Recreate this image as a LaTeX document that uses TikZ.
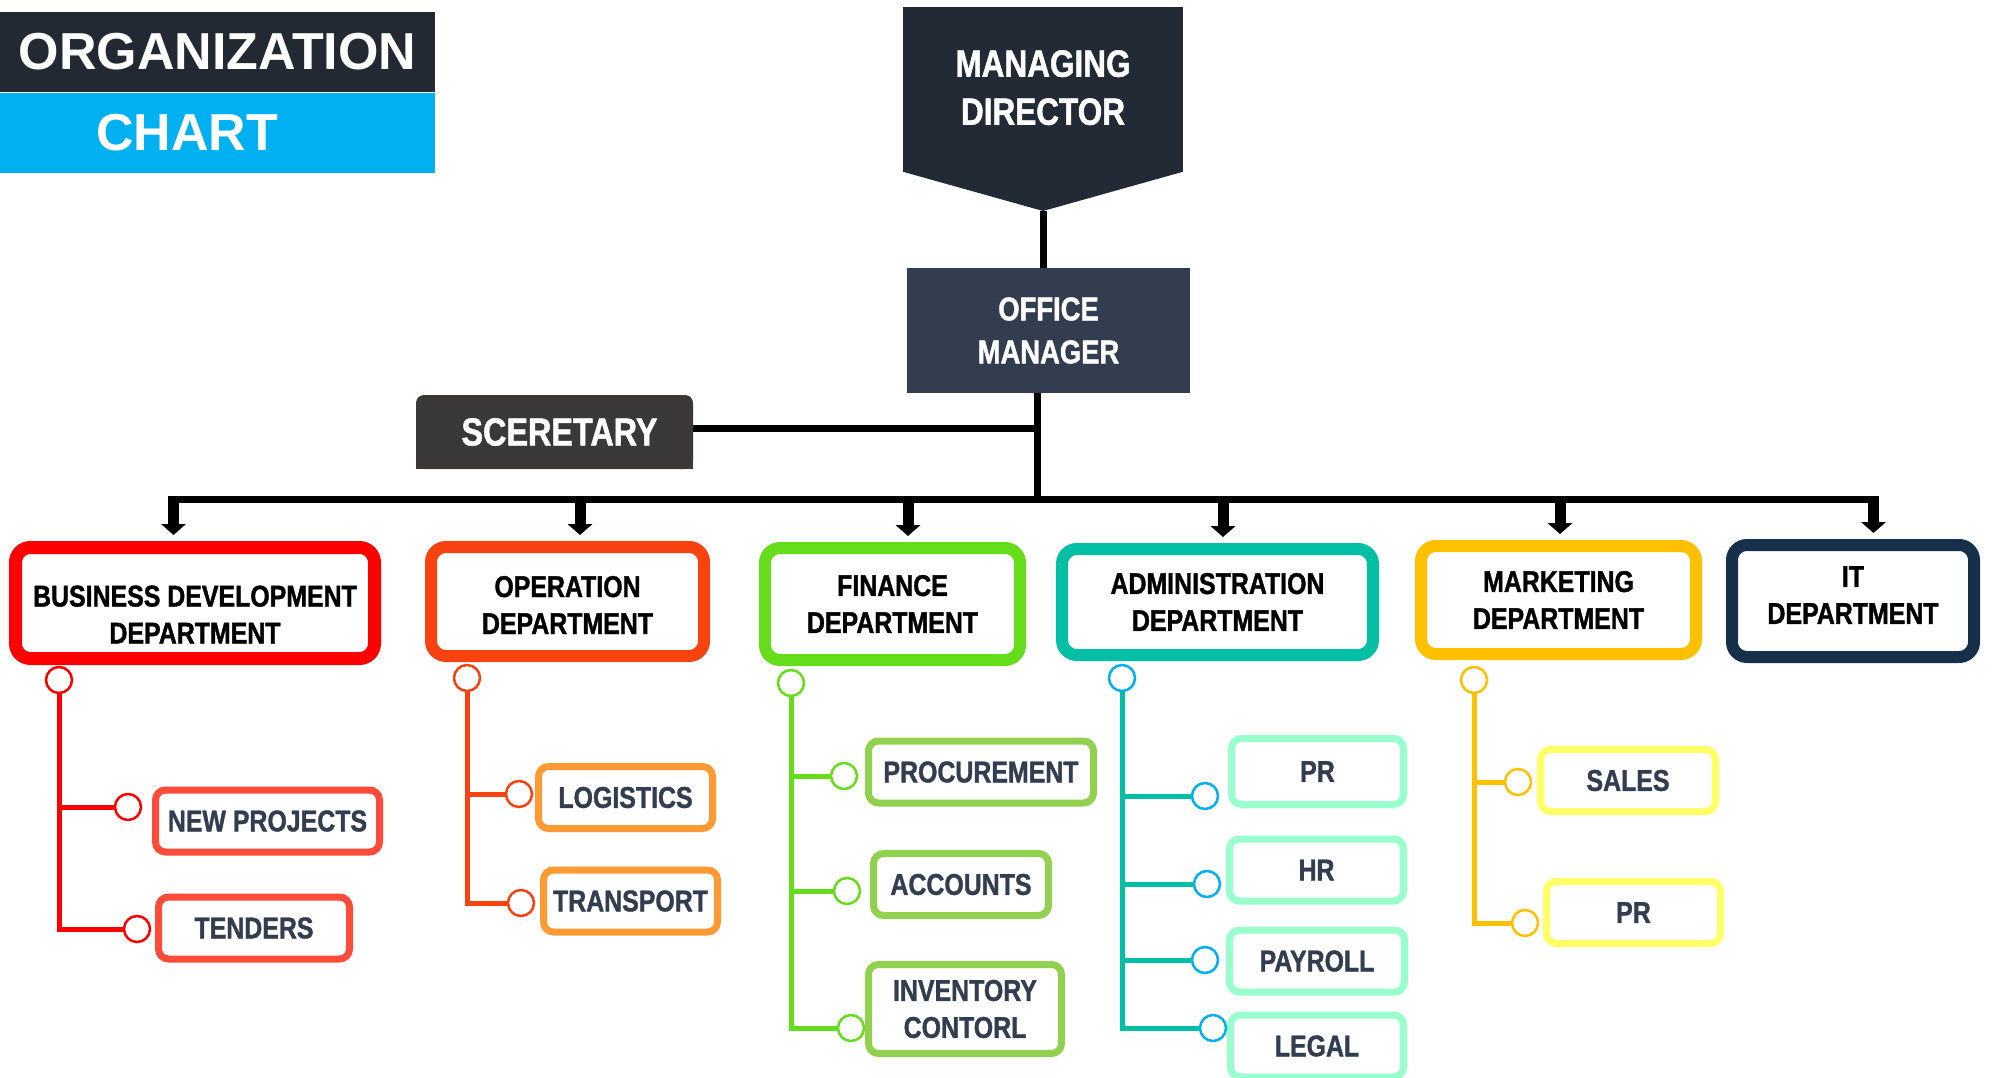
\documentclass[tikz,border=0pt]{standalone}
\usepackage{fontspec}
\newfontfamily\widefont{Liberation Sans}
\newfontfamily\narrowfont{Liberation Sans}[FakeStretch=0.83,BoldFeatures={FakeBold=1.2}]
\usetikzlibrary{arrows.meta}
\definecolor{titledark}{HTML}{222933}
\definecolor{titlecyan}{HTML}{00B0F0}
\definecolor{mdfill}{HTML}{222A36}
\definecolor{omfill}{HTML}{323E50}
\definecolor{secfill}{HTML}{3B3937}
\definecolor{subtext}{HTML}{323E50}
\definecolor{bdcol}{HTML}{FF0000}
\definecolor{bdsub}{HTML}{FF4B3A}
\definecolor{opcol}{HTML}{F8420F}
\definecolor{opsub}{HTML}{FF9933}
\definecolor{fincol}{HTML}{66DD1A}
\definecolor{finsub}{HTML}{92D050}
\definecolor{admcol}{HTML}{00BFA5}
\definecolor{admknob}{HTML}{00B0F0}
\definecolor{admsub}{HTML}{99FFCC}
\definecolor{mkcol}{HTML}{FFC000}
\definecolor{mksub}{HTML}{FFFF66}
\definecolor{itcol}{HTML}{17304A}
\newcommand\titlefont{\widefont\bfseries\fontsize{52}{60}\selectfont}
\newcommand\mdfont{\narrowfont\bfseries\fontsize{38}{48}\selectfont}
\newcommand\omfont{\narrowfont\bfseries\fontsize{33}{43}\selectfont}
\newcommand\secfont{\narrowfont\bfseries\fontsize{39}{46}\selectfont}
\newcommand\deptfont{\narrowfont\bfseries\fontsize{30}{37}\selectfont}
\tikzset{
	headbox/.style={fill=#1,text=white,inner sep=0pt,align=center},
	dept/.style={draw=#1,line width=12pt,rounded corners=15pt,fill=white,inner sep=0pt,align=center,font=\deptfont},
	subbox/.style={draw=#1,line width=7pt,rounded corners=10pt,fill=white,inner sep=0pt,align=center,text=subtext,font=\deptfont,minimum height=62pt},
	knob/.style={circle,draw=#1,line width=2.5pt,fill=white,inner sep=0pt,minimum size=26pt},
	twig/.style={draw=#1,line width=5pt},
	wire/.style={line width=7pt},
	droparrow/.style={line width=11pt,-{Triangle[width=25pt,length=11pt,line width=0pt]},shorten >=6pt}
}
\begin{document}
\begin{tikzpicture}[x=1pt,y=-1pt]
\useasboundingbox (0,0) rectangle (1998,1078);
\node[headbox=titledark,name=org,minimum width=435pt,minimum height=80pt,font=\titlefont] at (217.5,52){ORGANIZATION};
\node[headbox=titlecyan,name=chart,minimum width=435pt,minimum height=80pt] at (217.5,133){};
\node[text=white,inner sep=0pt,font=\titlefont,name=chartlbl] at (187,133){CHART};
\node[headbox=mdfill,name=md,minimum width=280pt,minimum height=165pt,font=\mdfont] at (1043,89.5){MANAGING\\DIRECTOR\rule[-4pt]{0pt}{0pt}};
\coordinate (mdtip) at (1043,211);
\fill[mdfill] ([yshift=0.5pt]md.south west) -- ([yshift=0.5pt]md.south east) -- (mdtip) -- cycle;
\node[headbox=omfill,name=om,minimum width=283pt,minimum height=125pt,font=\omfont] at (1048.5,330.5){OFFICE\\MANAGER};
\fill[secfill] (416,432) rectangle (693,469);
\node[headbox=secfill,name=sec,rounded corners=8pt,minimum width=277pt,minimum height=74pt,font=\secfont] at (554.5,432){\hspace*{10pt}SCERETARY};
\coordinate (hub) at (1037.5,499.5);
\draw[wire] (mdtip) -- (mdtip |- om.north);
\draw[wire] (hub |- om.south) -- (hub);
\draw[wire] ([yshift=4pt]sec.east) -- ([yshift=4pt]sec.east -| hub);
\node[dept=bdcol,name=d1,line width=13pt,minimum width=359pt,minimum height=111pt] at (195,603){\rule{0pt}{44pt}BUSINESS DEVELOPMENT\\DEPARTMENT};
\node[dept=opcol,name=d2,minimum width=273pt,minimum height=109pt] at (567.5,601.5){\rule{0pt}{28pt}OPERATION\\DEPARTMENT};
\node[dept=fincol,name=d3,minimum width=255pt,minimum height=112pt] at (892.5,604){FINANCE\\DEPARTMENT};
\node[dept=admcol,name=d4,minimum width=311pt,minimum height=106pt] at (1217.5,602){ADMINISTRATION\\DEPARTMENT};
\node[dept=mkcol,name=d5,minimum width=275pt,minimum height=108pt] at (1558.5,600){MARKETING\\DEPARTMENT};
\node[dept=itcol,name=d6,minimum width=242pt,minimum height=112pt] at (1853,601){IT\\DEPARTMENT\rule[-12pt]{0pt}{0pt}};
\foreach \i/\x in {1/173.5,2/580,3/908,4/1223,5/1560,6/1873.5}{
	\coordinate (t\i) at (\x,499.5);
};
\draw[wire] ([xshift=-5.5pt]t1) -- ([xshift=5.5pt]t6);
\foreach \i in {1,...,6}{
	\draw[droparrow] ([yshift=3.5pt]t\i) -- (t\i |- d\i.north);
};
\node[subbox=bdsub,name=s11,minimum width=224pt] at (267.5,821){NEW PROJECTS};
\node[subbox=bdsub,name=s12,minimum width=191pt] at (254,928){TENDERS};
\node[subbox=opsub,name=s21,minimum width=174pt] at (625.5,797.5){LOGISTICS};
\node[subbox=opsub,name=s22,minimum width=174pt] at (630.5,901){TRANSPORT};
\node[subbox=finsub,name=s31,minimum width=225pt] at (981,772){PROCUREMENT};
\node[subbox=finsub,name=s32,minimum width=175pt] at (961,884.5){ACCOUNTS};
\node[subbox=finsub,name=s33,minimum width=193pt,minimum height=89pt] at (965,1009){INVENTORY\\CONTORL};
\node[subbox=admsub,name=s41,minimum width=172pt,minimum height=66pt] at (1317.5,771.5){PR};
\node[subbox=admsub,name=s42,minimum width=174pt] at (1316.5,870){HR};
\node[subbox=admsub,name=s43,minimum width=175pt] at (1317,961){PAYROLL};
\node[subbox=admsub,name=s44,minimum width=173pt] at (1317,1046){LEGAL};
\node[subbox=mksub,name=s51,minimum width=175pt] at (1628,780.5){SALES};
\node[subbox=mksub,name=s52,minimum width=174pt] at (1633.5,912.5){PR};
\foreach \n/\c/\x/\y in {10/bdcol/59/680,11/bdcol/128/807,12/bdcol/137/929,20/opcol/467/678,21/opcol/519/794,22/opcol/521/903,30/fincol/791/683,31/fincol/844/776,32/fincol/847/891,33/fincol/851/1028,40/admknob/1122/678,41/admknob/1205/796,42/admknob/1207/884,43/admknob/1205/960,44/admknob/1213/1028,50/mkcol/1474/680,51/mkcol/1518/782,52/mkcol/1525/923}{
	\node[knob=\c,name=k\n] at (\x,\y){};
};
\foreach \i/\m/\c in {1/2/bdcol,2/2/opcol,3/3/fincol,4/4/admcol,5/2/mkcol}{
	\foreach \j in {1,...,\m}{
		\draw[twig=\c] (k\i0) |- (k\i\j);
	};
};
\end{tikzpicture}
\end{document}
